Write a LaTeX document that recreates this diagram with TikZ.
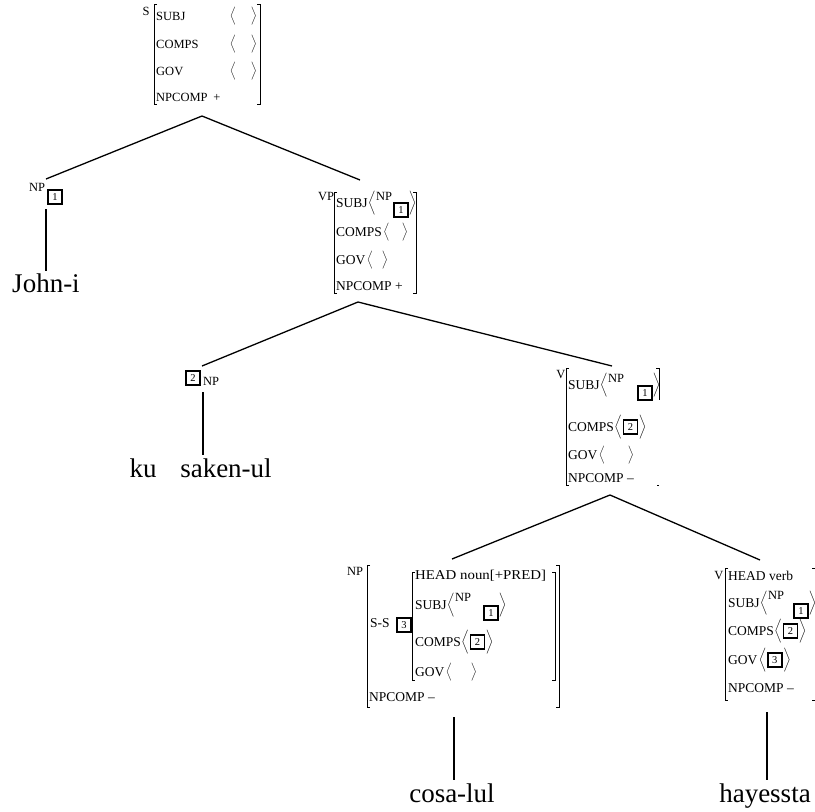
\documentclass[tikz,border=0pt]{standalone}
\usepackage{amsmath}
\usepackage{fontspec}
\setmainfont{Liberation Serif}
\usetikzlibrary{positioning}

\tikzset{
	ft/.style={anchor=west,inner sep=0pt,font=\fontsize{13.5}{14}\selectfont},
	sft/.style={anchor=west,inner sep=0pt,font=\fontsize{12.5}{13}\selectfont},
	ct/.style={inner sep=0pt,font=\fontsize{12.5}{13}\selectfont},
	ang/.style={inner sep=0pt,font=\fontsize{10}{12}\selectfont},
	tg/.style={draw,line width=1.6pt,inner sep=0pt,minimum size=14pt,font=\fontsize{10.5}{10}\selectfont},
	wd/.style={anchor=base,inner sep=0pt,font=\fontsize{27}{28}\selectfont},
	brk/.style={line width=0.8pt},
	br/.style={line width=1.3pt},
	stem/.style={line width=2.2pt}
}

\begin{document}
\begin{tikzpicture}[x=1pt,y=-1pt]
	\useasboundingbox (0,0) rectangle (815,812);
	
	% S
	\node[ct] (s) at (146,11) {S};
	\draw[brk] (157,4)--(154,4)--(154,104)--(157,104);
	\draw[brk] (257,4)--(260,4)--(260,104)--(257,104);
	\node[sft] (s1) at (156,16) {SUBJ};
	\node[sft] (s2) at (156,44) {COMPS};
	\node[sft] (s3) at (156,71) {GOV};
	\node[sft] (s4) at (156,97) {NPCOMP};
	\node[ang] (s1l) at (233,16) {$\Big\langle$};
	\node[ang] (s1r) at (254,16) {$\Big\rangle$};
	\node[ang] (s2l) at (233,44) {$\Big\langle$};
	\node[ang] (s2r) at (254,44) {$\Big\rangle$};
	\node[ang] (s3l) at (233,71) {$\Big\langle$};
	\node[ang] (s3r) at (254,71) {$\Big\rangle$};
	\node[sft,anchor=center] (s4v) at (217,98) {+};
	\coordinate (sb) at (202,116);
	
	% NP 1
	\node[ct] (np1) at (37,187) {NP};
	\node[tg] (np1t) at (55,197) {1};
	\coordinate (np1a) at (46,179);
	\coordinate (np1b) at (46,209);
	\coordinate (np1c) at (46,271);
	\node[wd] (w1) at (46,292) {John-i};
	
	\draw[br] (sb)--(np1a);
	\draw[stem] (np1b)--(np1c);
	
	% VP
	\node[ct] (vp) at (326,196) {VP};
	\draw[brk] (337,192)--(334,192)--(334,293)--(337,293);
	\draw[brk] (413,192)--(416,192)--(416,293)--(413,293);
	\node[ft] (vp1) at (336,203) {SUBJ};
	\node[ft] (vp2) at (336,232) {COMPS};
	\node[ft] (vp3) at (336,260) {GOV};
	\node[ft] (vp4) at (336,286) {NPCOMP +};
	\node[ang,right=0pt of vp1] (vp1l) {$\bigg\langle$};
	\node[ct,right=0pt of vp1l,yshift=7pt] (vp1n) {NP};
	\node[tg,right=1pt of vp1n,yshift=-14pt] (vp1t) {1};
	\node[ang,right=0pt of vp1t,yshift=7pt] (vp1r) {$\bigg\rangle$};
	\node[ang,right=1pt of vp2] (vp2l) {$\Big\langle$};
	\node[ang] (vp2r) at (405,232) {$\Big\rangle$};
	\node[ang,right=1pt of vp3] (vp3l) {$\Big\langle$};
	\node[ang] (vp3r) at (385,260) {$\Big\rangle$};
	\coordinate (vpa) at (360,180);
	\coordinate (vpb) at (358,302);
	
	\draw[br] (sb)--(vpa);
	
	% NP 2
	\node[tg] (np2t) at (193,378) {2};
	\node[ct] (np2) at (211,381) {NP};
	\coordinate (np2a) at (202,366);
	\coordinate (np2b) at (203,392);
	\coordinate (np2c) at (203,455);
	\node[wd] (w2) at (143,477) {ku};
	\node[wd] (w3) at (226,477) {saken-ul};
	
	\draw[br] (vpb)--(np2a);
	\draw[stem] (np2b)--(np2c);
	
	% V
	\node[ct] (v) at (561,374) {V};
	\draw[brk] (569,368)--(566,368)--(566,485)--(569,485);
	\draw[brk] (656,368)--(659,368)--(659,400);
	\draw[brk] (657,485)--(659,485);
	\node[ft] (v1) at (568,385) {SUBJ};
	\node[ft] (v2) at (568,427) {COMPS};
	\node[ft] (v3) at (568,455) {GOV};
	\node[ft] (v4) at (568,478) {NPCOMP --};
	\node[ang,right=0pt of v1] (v1l) {$\bigg\langle$};
	\node[ct,right=0pt of v1l,yshift=7pt] (v1n) {NP};
	\node[tg,right=13pt of v1n,yshift=-15pt] (v1t) {1};
	\node[ang,right=0pt of v1t,yshift=8pt] (v1r) {$\bigg\rangle$};
	\node[ang,right=0pt of v2] (v2l) {$\bigg\langle$};
	\node[tg,right=0.5pt of v2l] (v2t) {2};
	\node[ang,right=0.5pt of v2t] (v2r) {$\bigg\rangle$};
	\node[ang,right=1pt of v3] (v3l) {$\Big\langle$};
	\node[ang] (v3r) at (631,455) {$\Big\rangle$};
	\coordinate (va) at (612,366);
	\coordinate (vb) at (610,495);
	
	\draw[br] (vpb)--(va);
	
	% NP 3
	\node[ct] (np3) at (355,571) {NP};
	\draw[brk] (370,565)--(367,565)--(367,707)--(370,707);
	\draw[brk] (556,565)--(559,565)--(559,707)--(556,707);
	\node[ft] (np3s) at (370,623) {S-S};
	\node[tg] (np3t) at (404,625) {3};
	\draw[brk] (415,572)--(412,572)--(412,680)--(415,680);
	\draw[brk] (552,572)--(555,572)--(555,680)--(552,680);
	\node[ft] (np31) at (415,576) {\scalebox{1.1}[1]{HEAD noun[+PRED]}};
	\node[ft] (np32) at (415,605) {SUBJ};
	\node[ft] (np33) at (415,642) {COMPS};
	\node[ft] (np34) at (415,672) {GOV};
	\node[ft] (np35) at (369,697) {NPCOMP --};
	\node[ang,right=0pt of np32] (np32l) {$\bigg\langle$};
	\node[ct,right=0pt of np32l,yshift=8pt] (np32n) {NP};
	\node[tg,right=12pt of np32n,yshift=-16pt] (np32t) {1};
	\node[ang,right=0pt of np32t,yshift=8pt] (np32r) {$\bigg\rangle$};
	\node[ang,right=0pt of np33] (np33l) {$\bigg\langle$};
	\node[tg,right=0.5pt of np33l] (np33t) {2};
	\node[ang,right=0.5pt of np33t] (np33r) {$\bigg\rangle$};
	\node[ang,right=1pt of np34] (np34l) {$\Big\langle$};
	\node[ang] (np34r) at (474,672) {$\Big\rangle$};
	\coordinate (np3a) at (452,559);
	\coordinate (np3b) at (454,717);
	\coordinate (np3c) at (454,780);
	\node[wd] (w4) at (452,802) {cosa-lul};
	
	\draw[br] (vb)--(np3a);
	\draw[stem] (np3b)--(np3c);
	
	% V 2
	\node[ct] (v0) at (719,575) {V};
	\draw[brk] (728,568)--(725,568)--(725,700)--(728,700);
	\draw[brk] (812,568)--(815,568);
	\draw[brk] (812,700)--(815,700);
	\node[ft] (v01) at (728,576) {HEAD verb};
	\node[ft] (v02) at (728,603) {SUBJ};
	\node[ft] (v03) at (728,631) {COMPS};
	\node[ft] (v04) at (728,660) {GOV};
	\node[ft] (v05) at (728,688) {NPCOMP --};
	\node[ang,right=0pt of v02] (v02l) {$\bigg\langle$};
	\node[ct,right=0pt of v02l,yshift=8pt] (v02n) {NP};
	\node[tg,right=9pt of v02n,yshift=-16pt] (v02t) {1};
	\node[ang,right=0pt of v02t,yshift=8pt] (v02r) {$\bigg\rangle$};
	\node[ang,right=0pt of v03] (v03l) {$\bigg\langle$};
	\node[tg,right=0.5pt of v03l] (v03t) {2};
	\node[ang,right=0.5pt of v03t] (v03r) {$\bigg\rangle$};
	\node[ang,right=1pt of v04] (v04l) {$\bigg\langle$};
	\node[tg,right=0.5pt of v04l] (v04t) {3};
	\node[ang,right=0.5pt of v04t] (v04r) {$\bigg\rangle$};
	\coordinate (v0a) at (760,560);
	\coordinate (v0b) at (767,712);
	\coordinate (v0c) at (767,780);
	\node[wd] (w5) at (765,802) {hayessta};
	
	\draw[br] (vb)--(v0a);
	\draw[stem] (v0b)--(v0c);
\end{tikzpicture}
\end{document}
